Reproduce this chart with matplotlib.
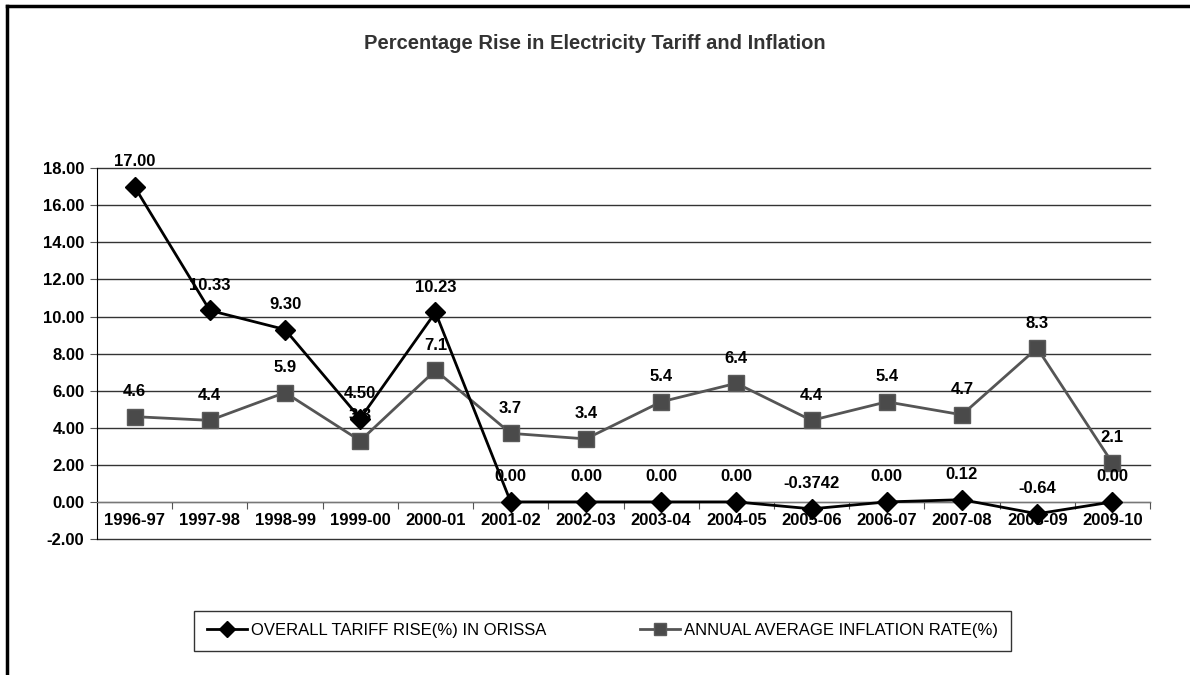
import numpy as np
import matplotlib
matplotlib.use('Agg')
import matplotlib.pyplot as plt
from matplotlib.lines import Line2D

plt.rcParams['font.family'] = ['Liberation Sans', 'DejaVu Sans']

# years and the two series
years = ['1996-97', '1997-98', '1998-99', '1999-00', '2000-01', '2001-02', '2002-03',
         '2003-04', '2004-05', '2005-06', '2006-07', '2007-08', '2008-09', '2009-10']
tariff = [17.00, 10.33, 9.30, 4.50, 10.23, 0.00, 0.00, 0.00, 0.00, -0.3742, 0.00, 0.12, -0.64, 0.00]
tariff_labels = ['17.00', '10.33', '9.30', '4.50', '10.23', '0.00', '0.00', '0.00', '0.00',
                 '-0.3742', '0.00', '0.12', '-0.64', '0.00']
inflation = [4.6, 4.4, 5.9, 3.3, 7.1, 3.7, 3.4, 5.4, 6.4, 4.4, 5.4, 4.7, 8.3, 2.1]
inflation_labels = ['4.6', '4.4', '5.9', '3.3', '7.1', '3.7', '3.4', '5.4', '6.4', '4.4',
                    '5.4', '4.7', '8.3', '2.1']

fig = plt.figure(figsize=(11.9, 6.75), dpi=100)
ax = fig.add_axes([0.0815, 0.2015, 0.8849, 0.5492])

x = np.arange(len(years))

l1, = ax.plot(x, tariff, color='black', lw=2, marker='D', markersize=10,
              markerfacecolor='black', markeredgecolor='black', zorder=4,
              label='OVERALL TARIFF RISE(%) IN ORISSA')
l2, = ax.plot(x, inflation, color='#555555', lw=2, marker='s', markersize=11.5,
              markerfacecolor='#4a4a4a', markeredgecolor='#5a5a5a', zorder=3,
              label='ANNUAL AVERAGE INFLATION RATE(%)')

# value labels above each point
for xi, v, s in zip(x, tariff, tariff_labels):
    ax.annotate(s, (xi, v), xytext=(0, 18), textcoords='offset points',
                ha='center', va='center', fontsize=12, fontweight='bold', zorder=5)
for xi, v, s in zip(x, inflation, inflation_labels):
    ax.annotate(s, (xi, v), xytext=(0, 18), textcoords='offset points',
                ha='center', va='center', fontsize=12, fontweight='bold', zorder=5)

ax.set_xlim(-0.5, len(years) - 0.5)
ax.set_ylim(-2, 18)
ax.set_yticks(np.arange(-2, 19, 2))
ax.set_yticklabels([f'{v:.2f}' for v in np.arange(-2, 19, 2)], fontsize=12, fontweight='bold')
ax.yaxis.grid(True, color='#333333', lw=1)
for gl in ax.get_ygridlines():
    gl.set_clip_on(False)
ax.set_axisbelow(True)

# category axis sits on the zero line
ax.spines['bottom'].set_position(('data', 0))
ax.spines['bottom'].set_color('#777777')
ax.spines['left'].set_color('black')
ax.spines['top'].set_visible(False)
ax.spines['right'].set_visible(False)

ax.set_xticks(np.arange(0.5, len(years), 1))
ax.set_xticklabels([])
ax.set_xticks(x, minor=True)
ax.set_xticklabels(years, minor=True, fontsize=12, fontweight='bold')
ax.tick_params(axis='x', which='major', direction='out', length=5, color='#555555')
ax.tick_params(axis='x', which='minor', length=0, pad=8)
ax.tick_params(axis='y', direction='out', length=5, color='#555555', pad=4)

fig.text(0.5, 0.935, 'Percentage Rise in Electricity Tariff and Inflation',
         ha='center', va='center', fontsize=14.5, fontweight='bold', color='#333333')

leg = fig.legend(handles=[l1, l2], loc='center',
                 bbox_to_anchor=(194 / 1190, 1 - 650 / 675, 817 / 1190, 39 / 675),
                 mode='expand', ncol=2, fontsize=12, frameon=True, fancybox=False,
                 edgecolor='black', handlelength=2.4, handletextpad=0.25,
                 borderpad=0.75, borderaxespad=0, markerscale=0.8)
leg.get_frame().set_linewidth(1)

# outer chart frame
fig.add_artist(Line2D([0.006, 0.006], [0, 0.991], transform=fig.transFigure,
                      color='black', lw=2.5))
fig.add_artist(Line2D([0.006, 1.0], [0.991, 0.991], transform=fig.transFigure,
                      color='black', lw=2.5))

fig.savefig('out.png', dpi=100)
